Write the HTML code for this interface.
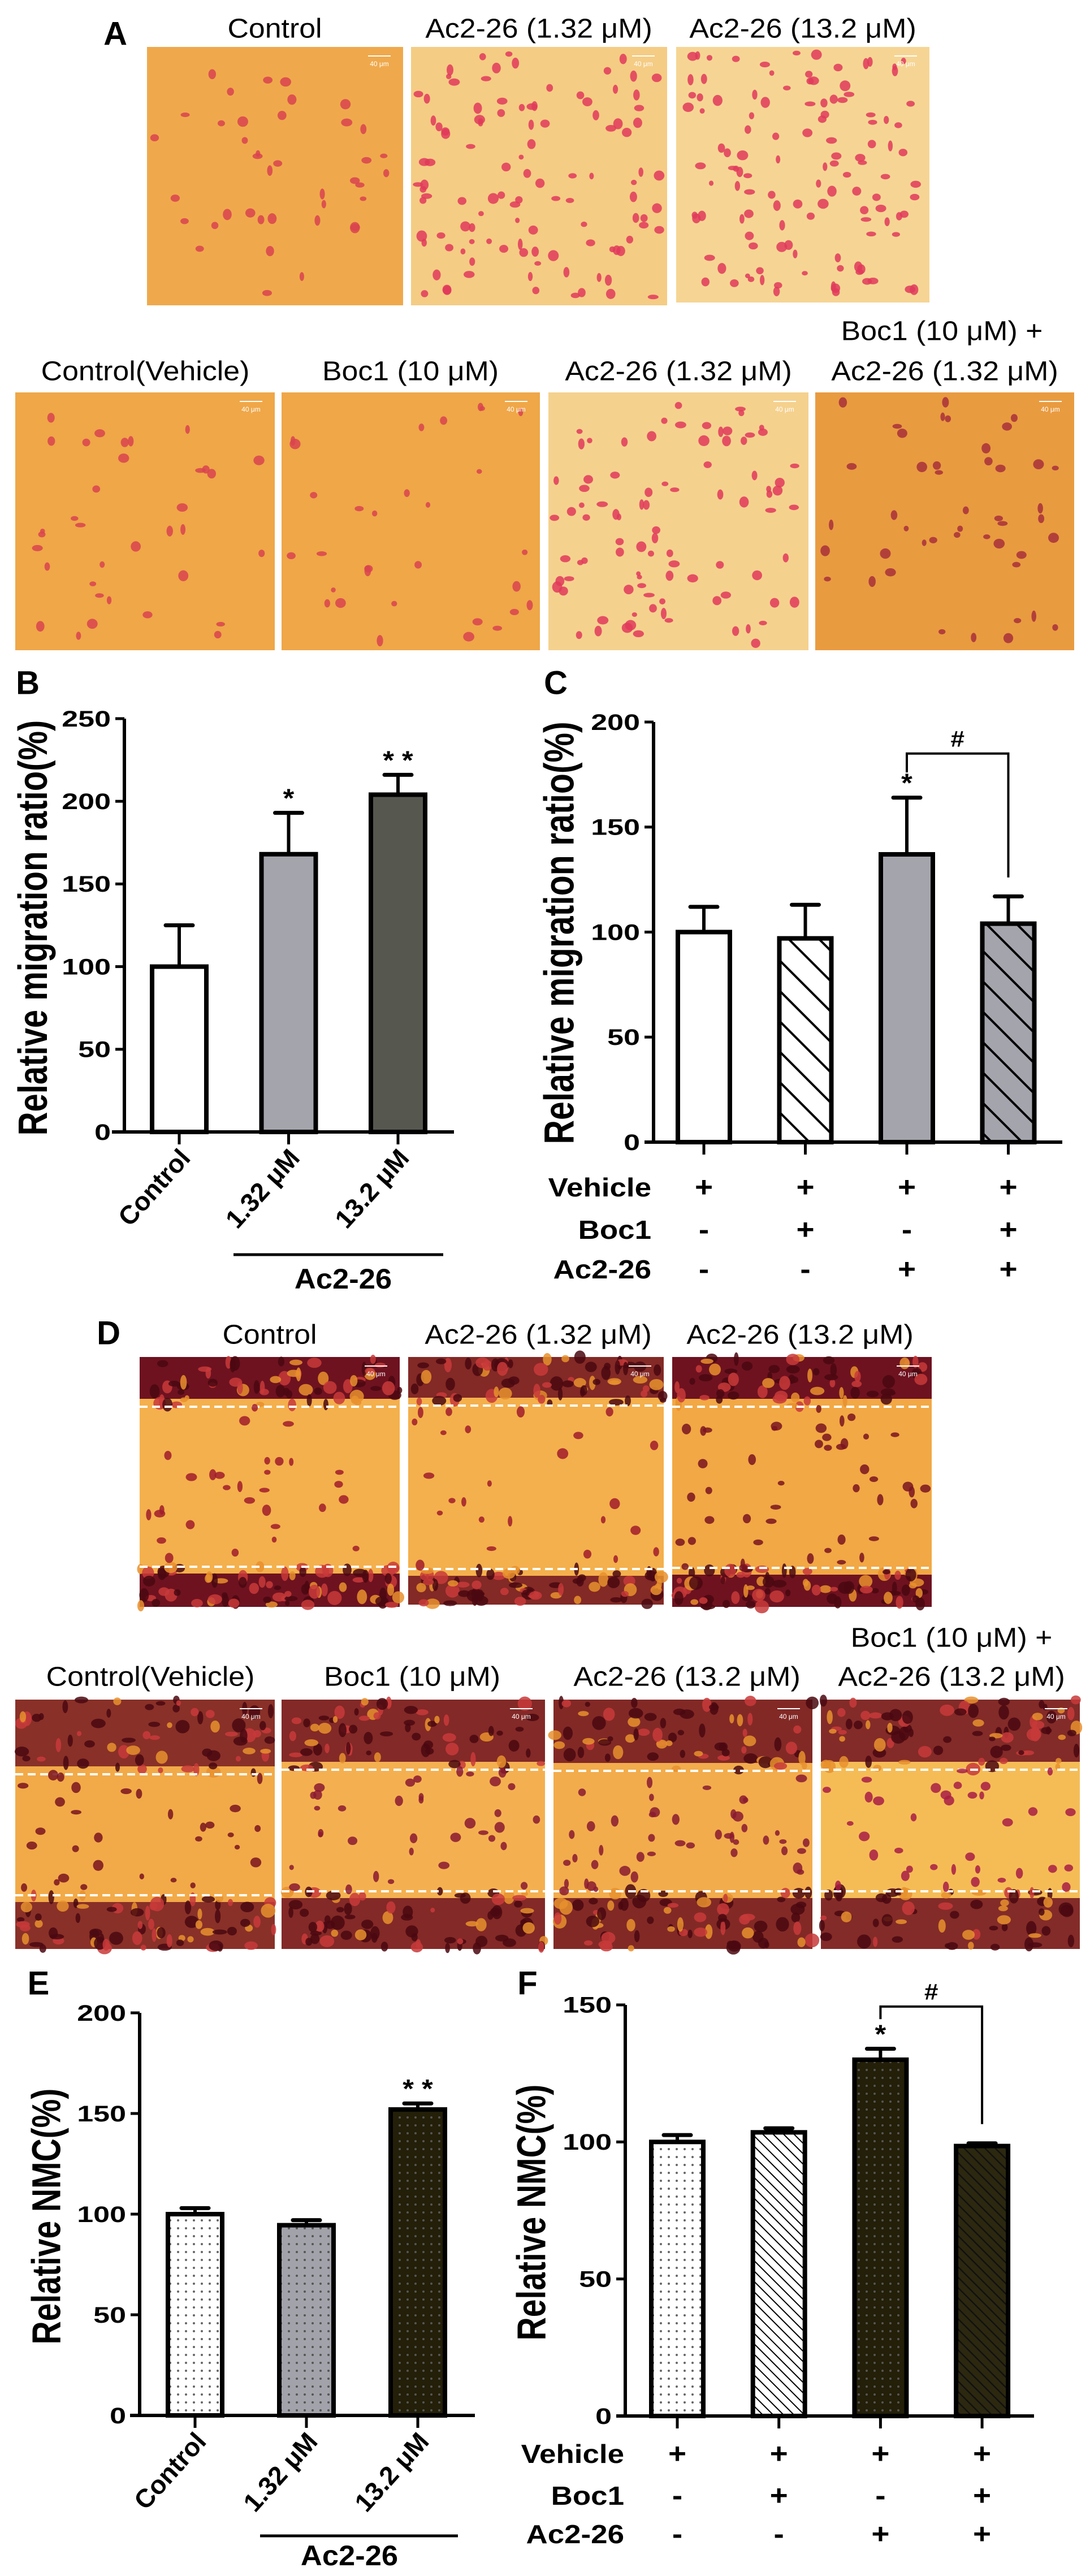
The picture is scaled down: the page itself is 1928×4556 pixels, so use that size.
<!DOCTYPE html>
<html><head><meta charset="utf-8"><title>Ac2-26 migration figure</title>
<style>
html,body{margin:0;padding:0;background:#fff;}
svg{display:block;font-family:"Liberation Sans",Arial,sans-serif;}
</style></head>
<body>
<svg id="fig" xmlns="http://www.w3.org/2000/svg" width="1928" height="4556" viewBox="0 0 1928 4556">
<defs>
<pattern id="dotsW" width="14" height="14" patternUnits="userSpaceOnUse"><rect width="14" height="14" fill="#fff"/><circle cx="7" cy="7" r="2" fill="#666"/></pattern>
<pattern id="dotsG" width="14" height="14" patternUnits="userSpaceOnUse"><rect width="14" height="14" fill="#a2a2aa"/><circle cx="7" cy="7" r="2" fill="#555"/></pattern>
<pattern id="dotsD" width="14" height="14" patternUnits="userSpaceOnUse"><rect width="14" height="14" fill="#231f08"/><circle cx="7" cy="7" r="2" fill="#555"/></pattern>
<pattern id="hatchWide" width="38" height="38" patternUnits="userSpaceOnUse" patternTransform="rotate(-45)"><rect width="38" height="38" fill="#fff"/><line x1="0" y1="0" x2="0" y2="38" stroke="#000" stroke-width="8"/></pattern>
<pattern id="hatchWideG" width="38" height="38" patternUnits="userSpaceOnUse" patternTransform="rotate(-45)"><rect width="38" height="38" fill="#a4a4ac"/><line x1="0" y1="0" x2="0" y2="38" stroke="#000" stroke-width="8"/></pattern>
<pattern id="hatchFine" width="13" height="13" patternUnits="userSpaceOnUse" patternTransform="rotate(-45)"><rect width="13" height="13" fill="#fff"/><line x1="0" y1="0" x2="0" y2="13" stroke="#000" stroke-width="4"/></pattern>
<pattern id="hatchFineD" width="13" height="13" patternUnits="userSpaceOnUse" patternTransform="rotate(-45)"><rect width="13" height="13" fill="#2c2810"/><line x1="0" y1="0" x2="0" y2="13" stroke="#111" stroke-width="5"/></pattern>
</defs>
</svg>
<script>
// ---------- chart data ----------
const bCategories = ['Control', '1.32 μM', '13.2 μM'];
const bValues = [100, 168, 204];
const bErrors = [25, 25, 12];
const bTicks = [0, 50, 100, 150, 200, 250];
const bStars = ['', '*', '**'];

const cValues = [100, 97, 137, 104];
const cErrors = [12, 16, 27, 13];
const cTicks = [0, 50, 100, 150, 200];
const cStars = ['', '', '*', ''];
const cBracket = [185, 176, 126];

const eCategories = ['Control', '1.32 μM', '13.2 μM'];
const eValues = [100, 94.5, 152];
const eErrors = [3, 2.5, 3];
const eTicks = [0, 50, 100, 150, 200];
const eStars = ['', '', '**'];

const fValues = [100, 103.5, 130, 98.5];
const fErrors = [2.5, 1.5, 4, 1];
const fTicks = [0, 50, 100, 150];
const fStars = ['', '', '*', ''];
const fBracket = [149.4, 144.8, 106.5];

const tableRows = ['Vehicle', 'Boc1', 'Ac2-26'];
const tableSigns = [['+','+','+','+'], ['-','+','-','+'], ['-','-','+','+']];

const NS = 'http://www.w3.org/2000/svg';
const svg = document.getElementById('fig');
function mk(tag, attrs, parent) {
  const e = document.createElementNS(NS, tag);
  for (const k in attrs) e.setAttribute(k, attrs[k]);
  (parent || svg).appendChild(e);
  return e;
}
function txt(str, x, y, size, opts, parent) {
  opts = opts || {};
  const t = mk('text', {
    transform: 'translate(' + x + ',' + y + ')' + (opts.rot ? ' rotate(' + opts.rot + ')' : '') + ' scale(' + (opts.sx || 1) + ',' + (opts.sy || 1) + ')',
    'font-size': size, 'font-weight': opts.bold ? 'bold' : 'normal',
    'text-anchor': opts.anchor || 'middle', 'dominant-baseline': opts.base || 'central',
    fill: opts.fill || '#000'
  }, parent);
  t.textContent = str;
  return t;
}
// seeded PRNG for micrograph texture (decoration only)
let seed = 12345;
function rnd() { seed = (seed * 1103515245 + 12345) & 0x7fffffff; return seed / 0x7fffffff; }

function micro(name, x, y, w, h, bg, cell, n, bands) {
  const g = mk('g', {});
  
  
  mk('rect', {x: x, y: y, width: w, height: h, fill: bg}, g);
  if (bands) {
    const top = bands[0], bot = bands[1];
    mk('rect', {x: x, y: y, width: w, height: top - y - 14, fill: '#6e1220', opacity: bands[2]}, g);
    mk('rect', {x: x, y: bot + 12, width: w, height: y + h - bot - 12, fill: '#6e1220', opacity: bands[2]}, g);
    for (let i = 0; i < 140; i++) {
      const yy = rnd() < 0.5 ? y + rnd() * (top - y) : bot + rnd() * (y + h - bot);
      mk('ellipse', {cx: x + rnd() * w, cy: yy, rx: 4 + rnd() * 9, ry: 4 + rnd() * 9, fill: rnd() < 0.5 ? '#4a0810' : (rnd() < 0.5 ? '#c83a3a' : '#e8902e'), opacity: 0.85}, g);
    }
    mk('line', {x1: x, y1: top, x2: x + w, y2: top, stroke: '#fff', 'stroke-width': 4, 'stroke-dasharray': '14 8'}, g);
    mk('line', {x1: x, y1: bot, x2: x + w, y2: bot, stroke: '#fff', 'stroke-width': 4, 'stroke-dasharray': '14 8'}, g);
  }
  for (let i = 0; i < n; i++) {
    let cy = y + 10 + rnd() * (h - 20);
    if (bands && (cy < bands[0] || cy > bands[1])) cy = bands[0] + rnd() * (bands[1] - bands[0]);
    mk('ellipse', {cx: x + 10 + rnd() * (w - 20), cy: cy, rx: 4 + rnd() * 6, ry: 4 + rnd() * 6, fill: cell, opacity: 0.85}, g);
  }
  mk('line', {x1: x + w - 62, y1: y + 16, x2: x + w - 22, y2: y + 16, stroke: '#fff', 'stroke-width': 2}, g);
  txt('40 μm', x + w - 42, y + 30, 12, {fill: '#fff'}, g);
}

// ---------- Panel A ----------
txt('A', 204, 60, 58, {bold: true});
const aTitles1 = [['Control', 486], ['Ac2-26 (1.32 μM)', 953], ['Ac2-26 (13.2 μM)', 1420]];
aTitles1.forEach(function (t) { txt(t[0], t[1], 50, 48, {sx: 1.08}); });
micro('micro-a-control', 260, 83, 453, 457, '#efa94c', '#d9434f', 40);
micro('micro-a-ac226-low', 727, 83, 453, 457, '#f5cc84', '#e03a5a', 110);
micro('micro-a-ac226-high', 1196, 83, 448, 452, '#f6d594', '#e03a5a', 120);
txt('Boc1 (10 μM) +', 1666, 585, 48, {sx: 1.08});
const aTitles2 = [['Control(Vehicle)', 257], ['Boc1 (10 μM)', 726], ['Ac2-26 (1.32 μM)', 1200], ['Ac2-26 (1.32 μM)', 1671]];
aTitles2.forEach(function (t) { txt(t[0], t[1], 656, 48, {sx: 1.08}); });
micro('micro-a-vehicle', 27, 694, 459, 456, '#efa748', '#d9434f', 35);
micro('micro-a-boc1', 498, 694, 457, 456, '#efa748', '#d9434f', 30);
micro('micro-a-ac226', 970, 694, 460, 456, '#f5d18e', '#e03a5a', 90);
micro('micro-a-boc1-ac226', 1442, 694, 458, 456, '#e99b40', '#a8303a', 45);

// ---------- Panel D ----------
txt('D', 192, 2358, 58, {bold: true});
[['Control', 477], ['Ac2-26 (1.32 μM)', 952], ['Ac2-26 (13.2 μM)', 1415]].forEach(function (t) { txt(t[0], t[1], 2360, 48, {sx: 1.08}); });
micro('micro-d-control', 247, 2400, 460, 442, '#f4b04c', '#a01c2c', 30, [2488, 2771, 1]);
micro('micro-d-ac226-low', 722, 2400, 452, 438, '#f4b04c', '#a01c2c', 25, [2486, 2775, 0.85]);
micro('micro-d-ac226-high', 1189, 2400, 459, 442, '#f2a844', '#7a1420', 45, [2488, 2773, 1]);
txt('Boc1 (10 μM) +', 1683, 2896, 48, {sx: 1.08});
[['Control(Vehicle)', 266], ['Boc1 (10 μM)', 729], ['Ac2-26 (13.2 μM)', 1215], ['Ac2-26 (13.2 μM)', 1683]].forEach(function (t) { txt(t[0], t[1], 2965, 48, {sx: 1.08}); });
micro('micro-d-vehicle', 27, 3006, 459, 441, '#f2aa48', '#7a1420', 30, [3138, 3352, 0.8]);
micro('micro-d-boc1', 498, 3006, 466, 441, '#f4b050', '#8a1a30', 35, [3130, 3345, 0.85]);
micro('micro-d-ac226', 979, 3006, 458, 441, '#f2ac4c', '#8a1a30', 45, [3132, 3345, 0.85]);
micro('micro-d-boc1-ac226', 1452, 3006, 458, 441, '#f5bc56', '#a81d44', 35, [3130, 3345, 0.85]);

// ---------- bar chart engine ----------
function yScale(cfg, v) { return cfg.y0 - v * cfg.ppu; }
function xCenter(cfg, i) { return cfg.cx0 + i * cfg.step; }

function drawChart(cfg, vals, errs, ticks, stars, fills, prefix) {
  const g = mk('g', {});
  
  
  const yTop = yScale(cfg, ticks[ticks.length - 1]);
  const ya = mk('line', {x1: cfg.ax, y1: yTop, x2: cfg.ax, y2: cfg.y0, stroke: '#000', 'stroke-width': 6}, g);
  
  
  ticks.forEach(function (t) {
    const yy = yScale(cfg, t);
    mk('line', {x1: cfg.ax - 16, y1: yy, x2: cfg.ax, y2: yy, stroke: '#000', 'stroke-width': 5}, g);
    const lab = txt(String(t), cfg.ax - 24, yy, 40, {bold: true, anchor: 'end', sx: 1.3}, g);
    
    
  });
  const xa = mk('line', {x1: cfg.xa0, y1: cfg.y0, x2: cfg.xa1, y2: cfg.y0, stroke: '#000', 'stroke-width': 6}, g);
  
  
  vals.forEach(function (v, i) {
    const cx = xCenter(cfg, i);
    const yv = yScale(cfg, v);
    const ye = yScale(cfg, v + errs[i]);
    const eb = mk('line', {x1: cx, y1: yv, x2: cx, y2: ye, stroke: '#000', 'stroke-width': 6}, g);
    
    
    mk('line', {x1: cx - 24, y1: ye, x2: cx + 24, y2: ye, stroke: '#000', 'stroke-width': 7, 'stroke-linecap': 'round'}, g);
    const r = mk('rect', {x: cx - cfg.bw / 2, y: yv, width: cfg.bw, height: cfg.y0 - yv, fill: fills[i], stroke: '#000', 'stroke-width': 8}, g);
    
    
    mk('line', {x1: cx, y1: cfg.y0, x2: cx, y2: cfg.y0 + 22, stroke: '#000', 'stroke-width': 5}, g);
    if (stars[i]) {
      const s = txt(stars[i].split('').join(' '), cx, ye - 10, 46, {bold: true, base: 'auto', sx: 1.1}, g);
      
      
    }
  });
  return g;
}
function drawBracket(cfg, br, i1, i2, prefix) {
  const x1 = xCenter(cfg, i1), x2 = xCenter(cfg, i2);
  const yt = yScale(cfg, br[0]);
  const p = mk('path', {d: 'M' + x1 + ',' + yScale(cfg, br[1]) + ' L' + x1 + ',' + yt + ' L' + x2 + ',' + yt + ' L' + x2 + ',' + yScale(cfg, br[2]), fill: 'none', stroke: '#000', 'stroke-width': 4});
  
  
  const h = txt('#', (x1 + x2) / 2, yt - 26, 40, {bold: true, sx: 1.1});
  
  
}
function drawTable(cfg, ys, labelX, prefix) {
  tableRows.forEach(function (row, r) {
    const l = txt(row, labelX, ys[r], 46, {bold: true, anchor: 'end', sx: 1.15});
    
    
    tableSigns[r].forEach(function (s, i) {
      const t = txt(s, xCenter(cfg, i), ys[r], 50, {bold: true, sx: 1.1});
      
      
    });
  });
}
function drawRotLabels(cfg, cats, prefix) {
  cats.forEach(function (c, i) {
    const t = txt(c, xCenter(cfg, i) + 22, cfg.y0 + 48, 46, {bold: true, anchor: 'end', rot: -48, base: 'auto'});
    
    
  });
}

// ---------- Panel B ----------
txt('B', 49, 1208, 58, {bold: true});
const bCfg = {y0: 2002, ppu: 2.924, ax: 220, xa0: 198, xa1: 803, cx0: 317, step: 193.5, bw: 96};
drawChart(bCfg, bValues, bErrors, bTicks, bStars, ['#fff', '#a4a4ac', '#56574f'], 'panel-b');
drawRotLabels(bCfg, bCategories, 'panel-b');
const bl = txt('Relative migration ratio(%)', 58, 1641, 58, {bold: true, rot: -90, sy: 1.25});


mk('line', {x1: 413, y1: 2219, x2: 784, y2: 2219, stroke: '#000', 'stroke-width': 5});
txt('Ac2-26', 607, 2262, 50, {bold: true, sx: 1.05});

// ---------- Panel C ----------
txt('C', 983, 1208, 58, {bold: true});
const cCfg = {y0: 2020, ppu: 3.715, ax: 1156, xa0: 1140, xa1: 1879, cx0: 1245, step: 179.5, bw: 92};
drawChart(cCfg, cValues, cErrors, cTicks, cStars, ['#fff', 'url(#hatchWide)', '#a4a4ac', 'url(#hatchWideG)'], 'panel-c');
drawBracket(cCfg, cBracket, 2, 3, 'panel-c');
drawTable(cCfg, [2100, 2175, 2245], 1152, 'panel-c');
const cl = txt('Relative migration ratio(%)', 990, 1650, 59, {bold: true, rot: -90, sy: 1.25});



// ---------- Panel E ----------
txt('E', 68, 3508, 58, {bold: true});
const eCfg = {y0: 4272, ppu: 3.56, ax: 247, xa0: 230, xa1: 840, cx0: 345, step: 197, bw: 96};
drawChart(eCfg, eValues, eErrors, eTicks, eStars, ['url(#dotsW)', 'url(#dotsG)', 'url(#dotsD)'], 'panel-e');
drawRotLabels(eCfg, eCategories, 'panel-e');
const el2 = txt('Relative NMC(%)', 82, 3920, 57, {bold: true, rot: -90, sy: 1.25});


mk('line', {x1: 460, y1: 4485, x2: 810, y2: 4485, stroke: '#000', 'stroke-width': 5});
txt('Ac2-26', 618, 4520, 50, {bold: true, sx: 1.05});

// ---------- Panel F ----------
txt('F', 933, 3508, 58, {bold: true});
const fCfg = {y0: 4273, ppu: 4.847, ax: 1106, xa0: 1090, xa1: 1829, cx0: 1198, step: 179.7, bw: 92};
drawChart(fCfg, fValues, fErrors, fTicks, fStars, ['url(#dotsW)', 'url(#hatchFine)', 'url(#dotsD)', 'url(#hatchFineD)'], 'panel-f');
drawBracket(fCfg, fBracket, 2, 3, 'panel-f');
drawTable(fCfg, [4340, 4414, 4482], 1104, 'panel-f');
const fl = txt('Relative NMC(%)', 940, 3913, 57, {bold: true, rot: -90, sy: 1.25});


</script>
</body></html>
